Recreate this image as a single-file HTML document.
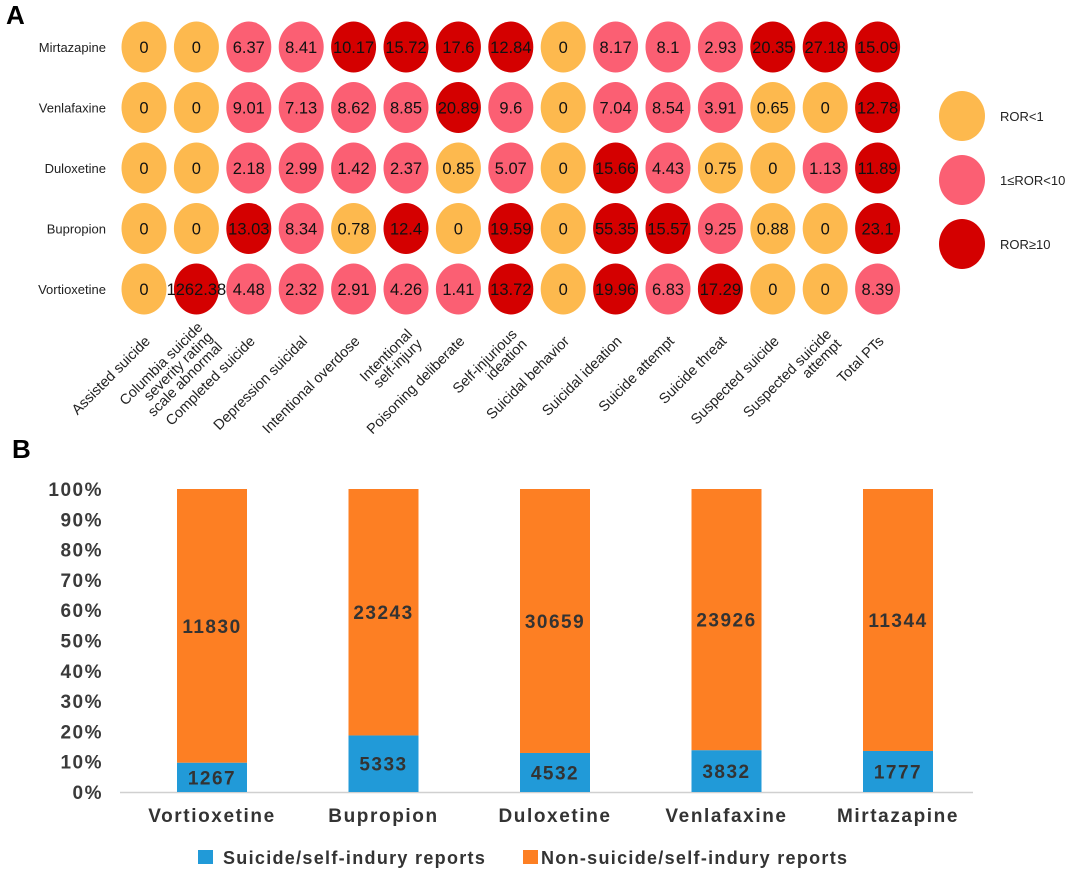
<!DOCTYPE html>
<html><head><meta charset="utf-8"><style>
body{margin:0;background:#fff;width:1065px;height:870px;overflow:hidden}
svg{display:block;font-family:"Liberation Sans",sans-serif}
</style></head><body>
<svg id="s" width="1065" height="870" viewBox="0 0 1065 870">
<text x="6" y="24" font-size="26" font-weight="bold">A</text>
<text x="12" y="458" font-size="26" font-weight="bold">B</text>
<g id="ga"></g>
<g id="gl"></g>
<g id="gb"></g>
</svg>
<script>
const drugsA = ["Mirtazapine","Venlafaxine","Duloxetine","Bupropion","Vortioxetine"];
const events = [["Assisted suicide"],["Columbia suicide","severity rating","scale abnormal"],["Completed suicide"],["Depression suicidal"],["Intentional overdose"],["Intentional","self-injury"],["Poisoning deliberate"],["Self-injurious","ideation"],["Suicidal behavior"],["Suicidal ideation"],["Suicide attempt"],["Suicide threat"],["Suspected suicide"],["Suspected suicide","attempt"],["Total PTs"]];
const rorMirtazapine = [0,0,6.37,8.41,10.17,15.72,17.6,12.84,0,8.17,8.1,2.93,20.35,27.18,15.09];
const rorVenlafaxine = [0,0,9.01,7.13,8.62,8.85,20.89,9.6,0,7.04,8.54,3.91,0.65,0,12.78];
const rorDuloxetine = [0,0,2.18,2.99,1.42,2.37,0.85,5.07,0,15.66,4.43,0.75,0,1.13,11.89];
const rorBupropion = [0,0,13.03,8.34,0.78,12.4,0,19.59,0,55.35,15.57,9.25,0.88,0,23.1];
const rorVortioxetine = [0,1262.38,4.48,2.32,2.91,4.26,1.41,13.72,0,19.96,6.83,17.29,0,0,8.39];
const rorRows = [rorMirtazapine,rorVenlafaxine,rorDuloxetine,rorBupropion,rorVortioxetine];
const legendLabels = ["ROR<1","1≤ROR<10","ROR≥10"];

const drugsB = ["Vortioxetine","Bupropion","Duloxetine","Venlafaxine","Mirtazapine"];
const suicideReports = [1267,5333,4532,3832,1777];
const nonSuicideReports = [11830,23243,30659,23926,11344];
const yTicks = [0,10,20,30,40,50,60,70,80,90,100];

const NS="http://www.w3.org/2000/svg";
function mk(tag,attrs,parent,txt){const e=document.createElementNS(NS,tag);for(const k in attrs)e.setAttribute(k,attrs[k]);if(txt!==undefined)e.textContent=txt;parent.appendChild(e);return e;}
const colA = i=>144+i*52.4;
const rowA = j=>47+j*60.5;
const col = v=> v<1?"#FDB94E":(v<10?"#FB5F73":"#D40000");
const ga=document.getElementById('ga');
drugsA.forEach((d,j)=>{
  const t=mk('text',{x:106,y:rowA(j)+5,'text-anchor':'end','font-size':13,fill:'#222'},ga,d);
  
  
  rorRows[j].forEach((v,i)=>{
    const e=mk('ellipse',{cx:colA(i),cy:rowA(j),rx:22.5,ry:25.5,fill:col(v)},ga);
    
    
    const tv=mk('text',{x:colA(i),y:rowA(j)+6,'text-anchor':'middle','font-size':16.5,fill:'#111'},ga,String(v));
    
    
  });
});
events.forEach((lines,i)=>{
  const x=colA(i)+7, y=342-(lines.length-1)*7;
  const t=mk('text',{transform:`translate(${x},${y}) rotate(-45)`,'text-anchor':'end','font-size':14.5,fill:'#222'},ga);
  
  
  lines.forEach((l,k)=>mk('tspan',{x:0,y:k*14},t,l));
});
const gl=document.getElementById('gl');
legendLabels.forEach((l,k)=>{
  const c=mk('ellipse',{cx:962,cy:116+k*64,rx:23,ry:25,fill:["#FDB94E","#FB5F73","#D40000"][k]},gl);
  
  
  const t=mk('text',{x:1000,y:121+k*64,'font-size':13,fill:'#222'},gl,l);
  
  
});

const gb=document.getElementById('gb');
const y0=792,y100=489;
const yS=p=>y0-(y0-y100)*p/100;
const xS=i=>212+i*171.5;
const bw=70;
yTicks.forEach(v=>{
  const t=mk('text',{x:103,y:yS(v)+7,'text-anchor':'end','font-size':19,'font-weight':'bold',fill:'#3a3a3a','letter-spacing':'1.5'},gb,v+'%');
  
  
});
const ax=mk('line',{x1:120,x2:973,y1:y0+0.5,y2:y0+0.5,stroke:'#d0d0d0','stroke-width':1.5},gb);


drugsB.forEach((d,i)=>{
  const tot=suicideReports[i]+nonSuicideReports[i];
  const ps=suicideReports[i]/tot*100;
  const yb=yS(ps);
  const r1=mk('rect',{x:xS(i)-bw/2,y:yb,width:bw,height:y0-yb,fill:'#219AD8'},gb);
  
  
  const r2=mk('rect',{x:xS(i)-bw/2,y:y100,width:bw,height:yb-y100,fill:'#FD7F23'},gb);
  
  
  const t1=mk('text',{x:xS(i),y:(yb+y0)/2+7,'text-anchor':'middle','font-size':19,'font-weight':'bold',fill:'#333','letter-spacing':'1.5'},gb,String(suicideReports[i]));
  
  
  const t2=mk('text',{x:xS(i),y:(yb+y100)/2+7,'text-anchor':'middle','font-size':19,'font-weight':'bold',fill:'#333','letter-spacing':'1.5'},gb,String(nonSuicideReports[i]));
  
  
  const t3=mk('text',{x:xS(i),y:822,'text-anchor':'middle','font-size':19,'font-weight':'bold',fill:'#333','letter-spacing':'1.6'},gb,d);
  
  
});
const s1=mk('rect',{x:198,y:850,width:15,height:14,fill:'#219AD8'},gb);


const l1=mk('text',{x:223,y:864,'font-size':18,'font-weight':'bold',fill:'#333','letter-spacing':'1.3'},gb,'Suicide/self-indury reports');


const s2=mk('rect',{x:523,y:850,width:15,height:14,fill:'#FD7F23'},gb);


const l2=mk('text',{x:541,y:864,'font-size':18,'font-weight':'bold',fill:'#333','letter-spacing':'1.3'},gb,'Non-suicide/self-indury reports');


</script>
</body></html>
